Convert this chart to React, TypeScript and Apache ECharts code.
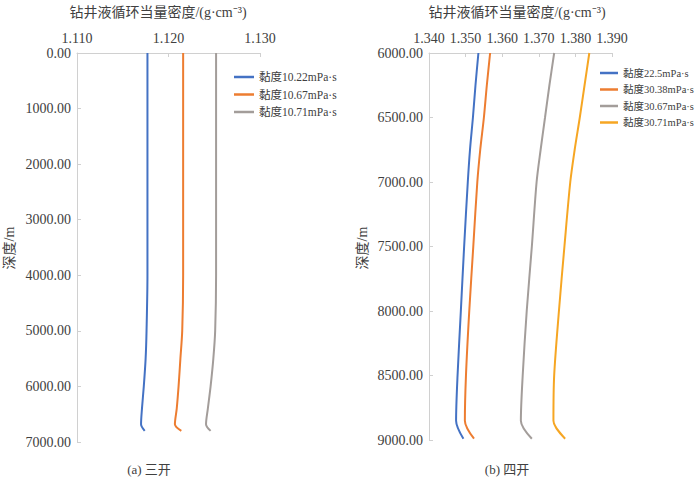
import React, { useEffect, useRef } from "react";
import * as echarts from "echarts";

// Left panel (三开)
const depthsA = [0, 1000, 2000, 3000, 4000, 5000, 5500, 6000, 6400, 6680, 6800];
const blueA = [1.1177, 1.1177, 1.1177, 1.1177, 1.1177, 1.1176, 1.1175, 1.1173, 1.1171, 1.117, 1.1174];
const orangeA = [1.1216, 1.1216, 1.1216, 1.1216, 1.1216, 1.1215, 1.1213, 1.1211, 1.1209, 1.1207, 1.1214];
const grayA = [1.1252, 1.1252, 1.1252, 1.1252, 1.1252, 1.1251, 1.1249, 1.1246, 1.1243, 1.1241, 1.1246];
const namesA = ["黏度10.22mPa·s", "黏度10.67mPa·s", "黏度10.71mPa·s"];

// Right panel (四开)
const depthsB = [6000, 6250, 6500, 6750, 7000, 7500, 8000, 8500, 8850, 8990];
const blueB = [1.3535, 1.3527, 1.352, 1.3512, 1.3506, 1.3496, 1.3487, 1.3478, 1.3474, 1.3494];
const orangeB = [1.3567, 1.3558, 1.355, 1.354, 1.3532, 1.3521, 1.351, 1.3501, 1.3498, 1.3523];
const grayB = [1.3742, 1.3729, 1.3717, 1.3705, 1.3694, 1.3681, 1.3667, 1.3656, 1.3651, 1.3681];
const yellowB = [1.3838, 1.3825, 1.3812, 1.3798, 1.3786, 1.377, 1.3755, 1.3742, 1.374, 1.3772];
const namesB = ["黏度22.5mPa·s", "黏度30.38mPa·s", "黏度30.67mPa·s", "黏度30.71mPa·s"];

const colors = ["#4472C4", "#ED7D31", "#A39D9A", "#F6A623"];
const titleText = "钻井液循环当量密度/(g·cm⁻³)";
const yName = "深度/m";
const captions = ["(a) 三开", "(b) 四开"];

const FONT = "'Liberation Serif', 'Noto Sans CJK SC', serif";
const TXT = "#404040";

function pair(xs: number[], ys: number[]) {
  return xs.map((x, i) => [x, ys[i]]);
}

export default function App() {
  const ref = useRef<HTMLDivElement>(null);
  useEffect(() => {
    if (!ref.current) return;
    const chart = echarts.init(ref.current, null, { renderer: "svg" });
    const axisLine = { show: true, lineStyle: { color: "#D0D0D0", width: 1 } };
    const axisTick = { show: true, inside: true, length: 4, lineStyle: { color: "#D0D0D0" } };
    const mkX = (gi: number, min: number, max: number) => ({
      type: "value",
      gridIndex: gi,
      position: "top",
      min,
      max,
      interval: 0.01,
      axisLine,
      axisTick,
      splitLine: { show: false },
      axisLabel: {
        formatter: (v: number) => v.toFixed(3),
        fontFamily: FONT,
        fontSize: 14,
        color: TXT,
        margin: 8,
      },
    });
    const mkY = (gi: number, min: number, max: number, interval: number) => ({
      type: "value",
      gridIndex: gi,
      inverse: true,
      min,
      max,
      interval,
      axisLine,
      axisTick,
      splitLine: { show: false },
      axisLabel: {
        formatter: (v: number) => v.toFixed(2),
        fontFamily: FONT,
        fontSize: 14,
        color: TXT,
        margin: 6,
      },
    });
    const mkSeries = (name: string, data: number[][], color: string, gi: number) => ({
      type: "line",
      name,
      xAxisIndex: gi,
      yAxisIndex: gi,
      data,
      showSymbol: false,
      smooth: 0.3,
      lineStyle: { color, width: 2 },
      itemStyle: { color },
    });
    const legendBase = {
      orient: "vertical",
      icon: "rect",
      itemWidth: 20,
      itemHeight: 2.5,
    };
    chart.setOption({
      animation: false,
      grid: [
        { left: 77, top: 53, width: 183, height: 389 },
        { left: 429, top: 53, width: 183, height: 387 },
      ],
      xAxis: [mkX(0, 1.11, 1.13), mkX(1, 1.34, 1.39)],
      yAxis: [mkY(0, 0, 7000, 1000), mkY(1, 6000, 9000, 500)],
      legend: [
        {
          ...legendBase,
          data: namesA,
          left: 229,
          top: 66,
          itemGap: 5.5,
          textStyle: { fontFamily: FONT, fontSize: 11.5, color: TXT, lineHeight: 12 },
        },
        {
          ...legendBase,
          data: namesB,
          left: 595,
          top: 62,
          itemGap: 4.5,
          itemWidth: 18,
          textStyle: { fontFamily: FONT, fontSize: 10.5, color: TXT, lineHeight: 12 },
        },
      ],
      series: [
        mkSeries(namesA[0], pair(blueA, depthsA), colors[0], 0),
        mkSeries(namesA[1], pair(orangeA, depthsA), colors[1], 0),
        mkSeries(namesA[2], pair(grayA, depthsA), colors[2], 0),
        mkSeries(namesB[0], pair(blueB, depthsB), colors[0], 1),
        mkSeries(namesB[1], pair(orangeB, depthsB), colors[1], 1),
        mkSeries(namesB[2], pair(grayB, depthsB), colors[2], 1),
        mkSeries(namesB[3], pair(yellowB, depthsB), colors[3], 1),
      ],
      graphic: [
        { type: "text", x: 158, y: 12, style: { text: titleText, align: "center", verticalAlign: "middle", fontFamily: FONT, fontSize: 14, fill: TXT } },
        { type: "text", x: 517, y: 12, style: { text: titleText, align: "center", verticalAlign: "middle", fontFamily: FONT, fontSize: 14, fill: TXT } },
        { type: "text", x: 9, y: 248, rotation: Math.PI / 2, style: { text: yName, align: "center", verticalAlign: "middle", fontFamily: FONT, fontSize: 14, fill: TXT } },
        { type: "text", x: 362, y: 248, rotation: Math.PI / 2, style: { text: yName, align: "center", verticalAlign: "middle", fontFamily: FONT, fontSize: 14, fill: TXT } },
        { type: "text", x: 149, y: 469, style: { text: captions[0], align: "center", verticalAlign: "middle", fontFamily: FONT, fontSize: 13, fill: TXT } },
        { type: "text", x: 507, y: 469, style: { text: captions[1], align: "center", verticalAlign: "middle", fontFamily: FONT, fontSize: 13, fill: TXT } },
      ],
    });
    return () => chart.dispose();
  }, []);
  return <div ref={ref} style={{ width: 700, height: 478, position: "absolute", left: 0, top: 0, background: "#fff" }} />;
}
